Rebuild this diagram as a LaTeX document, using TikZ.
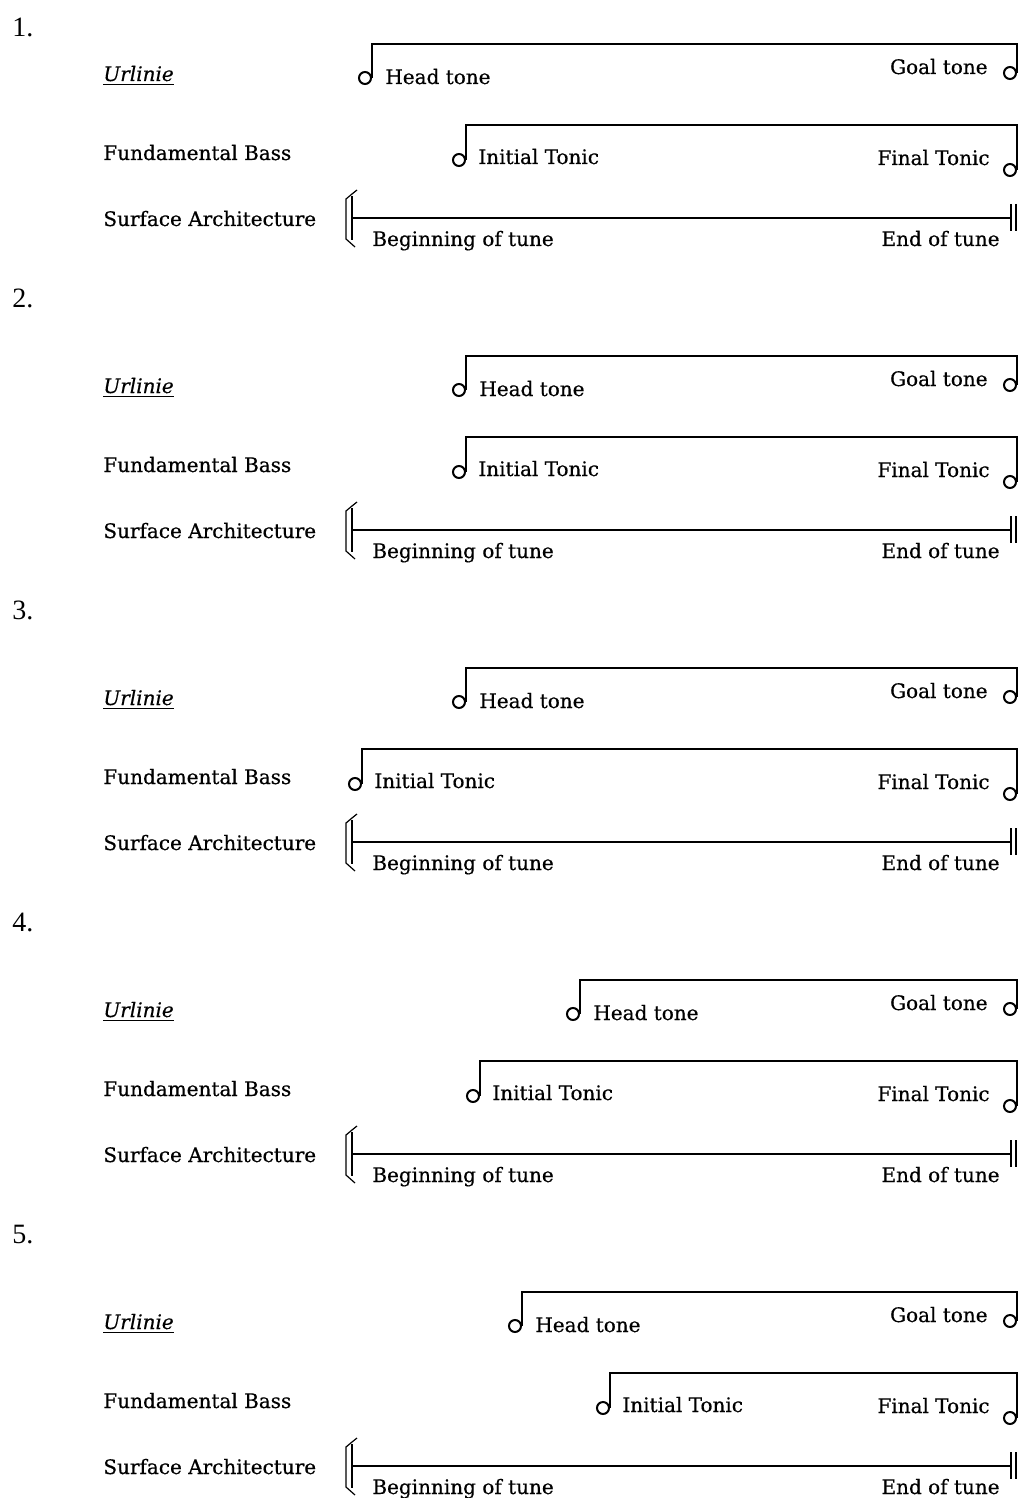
\documentclass[tikz,border=0pt]{standalone}
\usepackage{fontspec}
\setmainfont{Liberation Serif}
\newfontfamily\pixfont[FakeBold=0.5]{DejaVu Serif}
\usetikzlibrary{positioning,calc}
\tikzset{
  lbl/.style={anchor=base west, inner sep=0pt, font=\pixfont\fontsize{10}{12}\selectfont},
  num/.style={anchor=base west, inner sep=0pt, font=\fontsize{14}{16}\selectfont},
  head/.style={circle, draw, line width=1pt, minimum size=6pt, inner sep=0pt},
  line/.style={line width=1pt},
  fine/.style={line width=0.6pt},
}
\begin{document}
\begin{tikzpicture}[x=0.5pt, y=-0.5pt]
\useasboundingbox (0,0) rectangle (1021,1498);
% panel / Urlinie stem / bass stem / number baseline
\foreach \i/\hx/\fx/\ny in {1/372/466/37, 2/466/466/-5, 3/466/362/-5, 4/580/480/-5, 5/522/610/-5}{
\begin{scope}[shift={(0,{312*(\i-1)})}]
\node[num] (n\i) at (12,\ny) {\i.};
\node[lbl] (u\i) at (103,81) {\underline{\textit{Urlinie}}};
\node[lbl] (b\i) at (103,160) {Fundamental Bass};
\node[lbl] (s\i) at (103,226) {Surface Architecture};
% Urlinie
\node[head] (h\i) at (\hx-7,78) {};
\node[head] (g\i) at (1010,73) {};
\draw[line] (h\i.east) -- ++(0,-34) -| (g\i.east);
\node[lbl] (ht\i) at (\hx+13,84) {Head tone};
\node[lbl, anchor=base east] (gt\i) at (988,74) {Goal tone};
% fundamental bass
\node[head] (i\i) at (\fx-7,160) {};
\node[head] (f\i) at (1010,170) {};
\draw[line] (i\i.east) -- ++(0,-35) -| (f\i.east);
\node[lbl] (it\i) at (\fx+12,164) {Initial Tonic};
\node[lbl, anchor=base east] (ft\i) at (990,165) {Final Tonic};
% surface
\coordinate (sa\i) at (352,218);
\coordinate (se\i) at (1011,218);
\draw[line] (sa\i) -- (se\i);
\draw[fine] (355,247) -- (346,239) -- (346,199) -- (352,194) -- (357,190);
\draw[fine] (352,196) -- (352,240);
\draw[line] (1011,204) -- (1011,231) (1016,204) -- (1016,231);
\node[lbl] (bt\i) at (372,246) {Beginning of tune};
\node[lbl, anchor=base east] (et\i) at (1000,246) {End of tune};
\end{scope}
}
\end{tikzpicture}
\end{document}
